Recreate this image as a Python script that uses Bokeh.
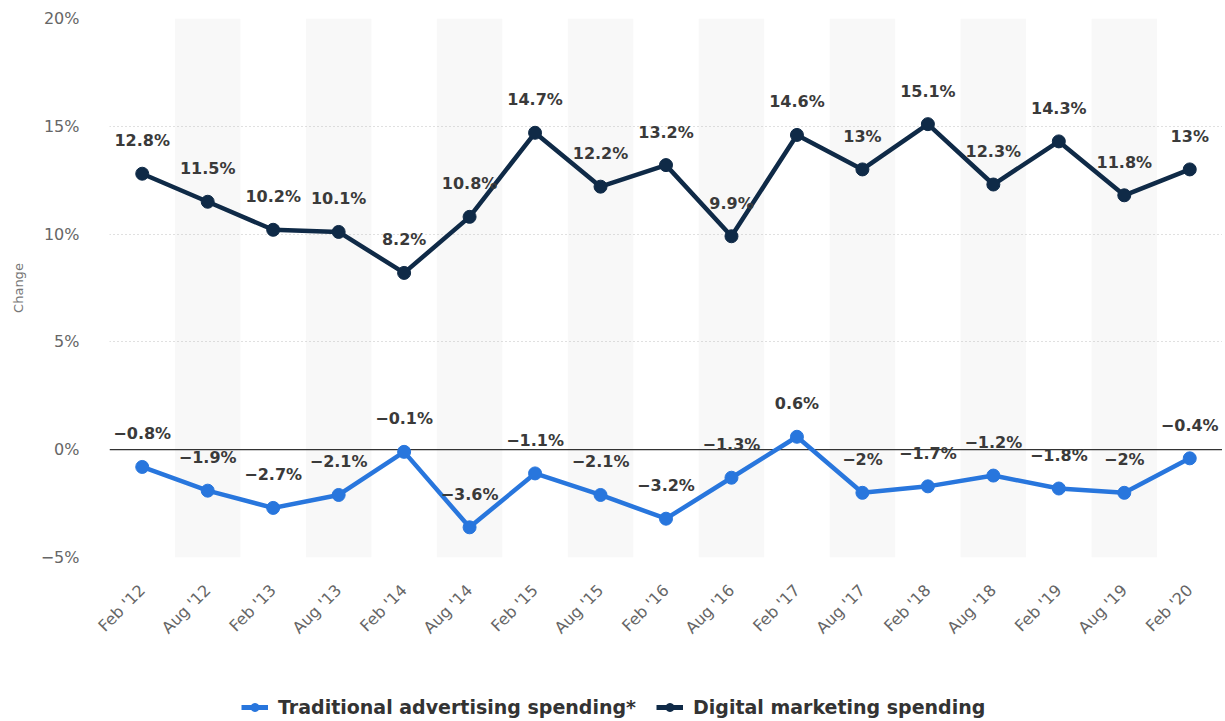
import math
from bokeh.plotting import figure
from bokeh.layouts import column
from bokeh.models import (FactorRange, FixedTicker, Span, Legend, LegendItem,
                          ColumnDataSource)
from bokeh.core.properties import value
from bokeh.embed import file_html
from bokeh.resources import INLINE

categories = ["Feb '12", "Aug '12", "Feb '13", "Aug '13", "Feb '14", "Aug '14",
              "Feb '15", "Aug '15", "Feb '16", "Aug '16", "Feb '17", "Aug '17",
              "Feb '18", "Aug '18", "Feb '19", "Aug '19", "Feb '20"]
traditional = [-0.8, -1.9, -2.7, -2.1, -0.1, -3.6, -1.1, -2.1, -3.2, -1.3,
               0.6, -2, -1.7, -1.2, -1.8, -2, -0.4]
digital = [12.8, 11.5, 10.2, 10.1, 8.2, 10.8, 14.7, 12.2, 13.2, 9.9, 14.6,
           13, 15.1, 12.3, 14.3, 11.8, 13]
y_ticks = [-5, 0, 5, 10, 15, 20]
series_names = ["Traditional advertising spending*", "Digital marketing spending"]

TRAD_COLOR = "#2876dd"
DIG_COLOR = "#0f2a47"
W = 1222


def fmt(v):
    s = ("%g" % v).replace("-", "\u2212")
    return s + "%"


p = figure(width=W, height=693, x_range=FactorRange(*categories, range_padding=0),
           y_range=(-5, 20), output_backend="svg", toolbar_location=None,
           min_border_top=18, min_border_left=109, min_border_right=0,
           min_border_bottom=136, outline_line_color=None,
           background_fill_color="white", border_fill_color="white")

# alternating bands
band_cats = categories[1::2]
p.vbar(x=band_cats, top=[y_ticks[-1]] * len(band_cats),
       bottom=[y_ticks[0]] * len(band_cats), width=1.0,
       fill_color="#f8f8f8", line_color=None, level="underlay")

p.xgrid.grid_line_color = None
p.ygrid.ticker = FixedTicker(ticks=[t for t in y_ticks if t != 0])
p.ygrid.grid_line_color = "#c0c0c0"
p.ygrid.grid_line_dash = "1 3"
p.ygrid.grid_line_width = 1

p.add_layout(Span(location=0, dimension="width", line_color="#333333",
                  line_width=1.2, level="underlay"))

src_t = ColumnDataSource(dict(x=categories, y=traditional,
                              lab=[fmt(v) for v in traditional]))
src_d = ColumnDataSource(dict(x=categories, y=digital,
                              lab=[fmt(v) for v in digital]))

p.line("x", "y", source=src_t, line_color=TRAD_COLOR, line_width=4.5)
p.scatter("x", "y", source=src_t, size=13, fill_color=TRAD_COLOR,
          line_color=TRAD_COLOR)
p.line("x", "y", source=src_d, line_color=DIG_COLOR, line_width=4.5)
p.scatter("x", "y", source=src_d, size=13, fill_color=DIG_COLOR,
          line_color=DIG_COLOR)

for src in (src_t, src_d):
    p.text("x", "y", text="lab", source=src, y_offset=-33,
           text_align="center", text_baseline="middle",
           text_font=value("DejaVu Sans"), text_font_style="bold",
           text_font_size="16px", text_color="#3a3a3a")

# axes
p.yaxis.ticker = FixedTicker(ticks=y_ticks)
p.yaxis.major_label_overrides = {t: fmt(t) for t in y_ticks}
p.yaxis.axis_line_color = None
p.yaxis.major_tick_line_color = None
p.yaxis.minor_tick_line_color = None
p.yaxis.major_label_text_font = "DejaVu Sans"
p.yaxis.major_label_text_font_size = "16px"
p.yaxis.major_label_text_color = "#666666"
p.yaxis.major_label_standoff = 24
p.yaxis.axis_label = "Change"
p.yaxis.axis_label_text_font = "DejaVu Sans"
p.yaxis.axis_label_text_font_style = "normal"
p.yaxis.axis_label_text_font_size = "13px"
p.yaxis.axis_label_text_color = "#777777"
p.yaxis.axis_label_standoff = 12

p.xaxis.axis_line_color = None
p.xaxis.major_tick_line_color = None
p.xaxis.minor_tick_line_color = None
p.xaxis.major_label_orientation = math.pi / 4
p.xaxis.major_label_text_font = "DejaVu Sans"
p.xaxis.major_label_text_font_size = "16px"
p.xaxis.major_label_text_color = "#666666"
p.xaxis.major_label_standoff = 24

# legend in a separate strip below
q = figure(width=W, height=26, output_backend="svg", toolbar_location=None,
           outline_line_color=None, min_border=0, x_range=(0, 1), y_range=(0, 1))
q.axis.visible = False
q.grid.visible = False
qlt = q.line(x=[-5, -4], y=[-5, -4], line_color=TRAD_COLOR, line_width=5)
qmt = q.scatter(x=[-5], y=[-5], size=13, fill_color=TRAD_COLOR, line_color=TRAD_COLOR)
qld = q.line(x=[-5, -4], y=[-5, -4], line_color=DIG_COLOR, line_width=5)
qmd = q.scatter(x=[-5], y=[-5], size=13, fill_color=DIG_COLOR, line_color=DIG_COLOR)
legend = Legend(items=[
    LegendItem(label=series_names[0], renderers=[qlt, qmt]),
    LegendItem(label=series_names[1], renderers=[qld, qmd]),
], orientation="horizontal", location=(132, 1), border_line_color=None,
    background_fill_alpha=0, label_text_font="DejaVu Sans",
    label_text_font_style="bold", label_text_font_size="19px",
    label_text_color="#333333", glyph_width=27, glyph_height=20,
    spacing=20, padding=0, margin=0, label_standoff=10)
q.add_layout(legend, "center")

layout = column(p, q, spacing=0)
open("out.html", "w").write(file_html(layout, INLINE))
